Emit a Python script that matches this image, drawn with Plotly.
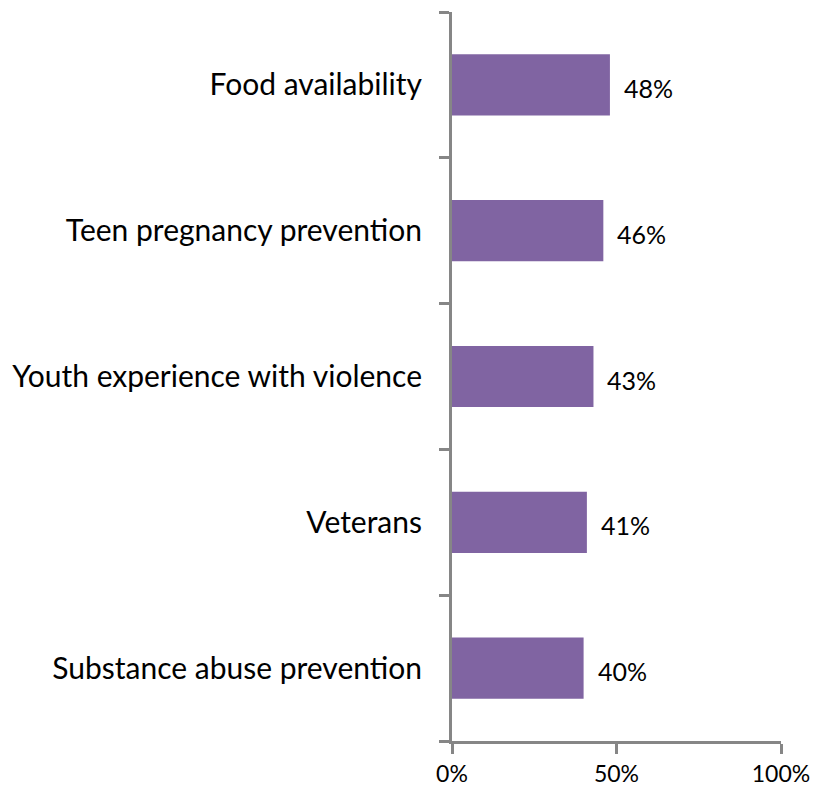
import plotly.graph_objects as go

# Share of respondents per topic (percent)
categories = [
    "Substance abuse prevention",
    "Veterans",
    "Youth experience with violence",
    "Teen pregnancy prevention",
    "Food availability",
]
values = [40, 41, 43, 46, 48]
x_tick_vals = [0, 50, 100]
x_tick_text = ["0%", "50%", "100%"]

BAR_COLOR = "#8064A2"
AXIS_COLOR = "#868686"
FONT = "Lato"

fig = go.Figure()
fig.add_trace(go.Bar(
    x=values,
    y=categories,
    orientation="h",
    marker=dict(color=BAR_COLOR, line=dict(width=0)),
    width=0.42,
    hoverinfo="skip",
))

for cat, v in zip(categories, values):
    fig.add_annotation(
        x=v, y=cat, text=f"{v}%", showarrow=False,
        xanchor="left", xshift=12, yshift=-3,
        font=dict(family=FONT, size=25, color="#000000"),
    )

fig.update_layout(
    width=814, height=788,
    margin=dict(l=452, r=33, t=12, b=47, autoexpand=False),
    paper_bgcolor="white", plot_bgcolor="white",
    showlegend=False,
    font=dict(family=FONT, color="#000000"),
)
fig.update_xaxes(
    range=[0, 100], tickvals=x_tick_vals, ticktext=x_tick_text,
    showgrid=False, zeroline=False, automargin=False,
    showline=True, linecolor=AXIS_COLOR, linewidth=3,
    ticks="outside", ticklen=10, tickwidth=3, tickcolor=AXIS_COLOR,
    tickfont=dict(family=FONT, size=23, color="#000000"),
    ticklabelstandoff=0,
    fixedrange=True,
)
fig.update_yaxes(
    range=[-0.5, 4.5], tickson="boundaries",
    showgrid=False, zeroline=False, automargin=False,
    showline=True, linecolor=AXIS_COLOR, linewidth=3,
    ticks="outside", ticklen=10, tickwidth=3, tickcolor=AXIS_COLOR,
    tickfont=dict(family=FONT, size=30, color="#000000"),
    ticklabelstandoff=21,
    fixedrange=True,
)

fig.write_html("out.html", config={"displayModeBar": False})
